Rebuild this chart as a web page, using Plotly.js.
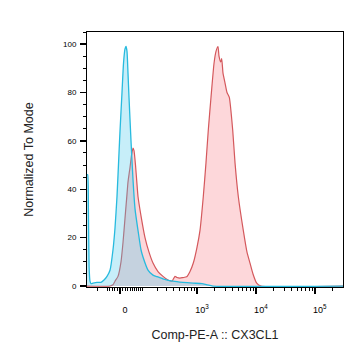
<!DOCTYPE html>
<html><head><meta charset="utf-8">
<script src="https://cdn.plot.ly/plotly-3.0.1.min.js"></script>
<style>html,body{margin:0;padding:0;background:#fff}</style>
</head><body>
<div id="chart" style="width:364px;height:359px"></div>
<script>
// Histogram channels (0-256 display channels across the biexponential axis) and % of mode
const isotypeChannel = [0, 0.7, 1.4, 2.1, 3, 4, 6, 10, 14, 17, 20, 23, 26, 28, 30, 32, 33, 35, 36.5, 38, 39, 40, 41, 42, 44, 46, 48, 51, 54, 56, 61, 66, 70, 76, 86, 96, 106, 115, 120, 126, 256];
const isotypeCount   = [46, 46, 32, 8, 2, 1, 1.2, 1.5, 1.5, 2.5, 4, 6.5, 15, 24, 37, 55, 64, 80, 92, 98, 99, 97, 88, 78, 60, 44, 32, 23, 15, 12, 6.6, 4.5, 3.9, 3, 2, 1.5, 1.2, 1, 0.5, 0, 0];
const cx3cl1Channel = [0, 23, 26, 28, 31, 34, 36, 38, 40, 41, 43, 44.5, 46, 47, 48.5, 50, 51, 54, 58, 62, 66, 71, 76, 81, 85, 88, 90, 93, 96, 99.7, 103, 106.3, 110, 113, 116.3, 119, 121.3, 124, 127, 129, 131, 132, 133.7, 134.7, 136, 138, 140, 142.3, 145.7, 148, 151.3, 156.3, 160, 163, 166, 169.7, 174, 256];
const cx3cl1Count   = [0, 0, 0.5, 2, 4, 10, 18, 28, 38, 43, 49, 54, 57, 56, 50, 42, 37, 29, 20, 14, 9.5, 6, 4, 2.5, 2, 4, 3.5, 3.3, 3.5, 3.8, 6, 9.5, 16, 23, 37, 51, 64.5, 78, 92, 97, 99, 95, 92.6, 94, 88, 84, 80, 78, 64.5, 51, 37, 23, 14, 9.5, 5, 1.2, 0, 0];

const majorTickValues = [0, 1e3, 1e4, 1e5];
const majorTickLabels = ['0', '10<sup>3</sup>', '10<sup>4</sup>', '10<sup>5</sup>'];
const minorTickValues = [-100, -50, -40, -30, -20, -10,
  10, 20, 30, 40, 50, 60, 70, 80, 90,
  100, 200, 300, 400, 500, 600, 700, 800, 900,
  2000, 3000, 4000, 5000, 6000, 7000, 8000, 9000,
  20000, 30000, 40000, 50000, 60000, 70000, 80000, 90000, 200000];
const yTickValues = [0, 20, 40, 60, 80, 100];

// biexponential-like display transform: fluorescence value -> display channel
function toChannel(v) { return 33 + 25.6 * Math.asinh(v / 99); }

const font = 'Liberation Sans, Arial, sans-serif';

const traces = [
  {
    x: cx3cl1Channel, y: cx3cl1Count, type: 'scatter', mode: 'lines',
    line: {color: '#d4585c', width: 1.2, shape: 'spline', smoothing: 0.5},
    fill: 'tozeroy', fillcolor: 'rgba(247,112,122,0.28)',
    hoverinfo: 'skip', showlegend: false
  },
  {
    x: isotypeChannel, y: isotypeCount, type: 'scatter', mode: 'lines',
    line: {color: '#27bade', width: 1.3, shape: 'spline', smoothing: 0.5},
    fill: 'tozeroy', fillcolor: 'rgba(70,200,235,0.3)',
    hoverinfo: 'skip', showlegend: false
  }
];

const layout = {
  width: 364, height: 359,
  margin: {l: 87, r: 21, t: 32, b: 72},
  paper_bgcolor: '#fff', plot_bgcolor: '#fff',
  font: {family: font, color: '#000'},
  xaxis: {
    range: [0, 256],
    tickmode: 'array',
    tickvals: majorTickValues.map(toChannel),
    ticktext: majorTickLabels,
    ticks: 'outside', ticklen: 6, tickwidth: 1.5, tickcolor: '#000',
    ticklabelshift: 5, ticklabelstandoff: 8,
    tickfont: {size: 9, family: font, color: '#000'},
    minor: {tickmode: 'array', tickvals: minorTickValues.map(toChannel), ticks: 'outside', ticklen: 3, tickwidth: 1, tickcolor: '#000', showgrid: false},
    showline: true, linecolor: '#000', linewidth: 1, mirror: true,
    showgrid: false, zeroline: false,
    title: {text: 'Comp-PE-A :: CX3CL1', font: {size: 12.5, family: font, color: '#222'}, standoff: 16}
  },
  yaxis: {
    range: [-0.4, 105],
    tickmode: 'array', tickvals: yTickValues,
    ticks: 'outside', ticklen: 6, tickwidth: 1.5, tickcolor: '#000',
    ticklabelstandoff: 2,
    tickfont: {size: 8, family: font, color: '#000'},
    minor: {dtick: 5, ticks: 'outside', ticklen: 3, tickwidth: 1, tickcolor: '#000', showgrid: false},
    showline: true, linecolor: '#000', linewidth: 1, mirror: true,
    showgrid: false, zeroline: false,
    title: {text: 'Normalized To Mode', font: {size: 12.5, family: font, color: '#222'}, standoff: 26}
  }
};

Plotly.newPlot('chart', traces, layout, {staticPlot: true, displayModeBar: false});
</script>
</body></html>
